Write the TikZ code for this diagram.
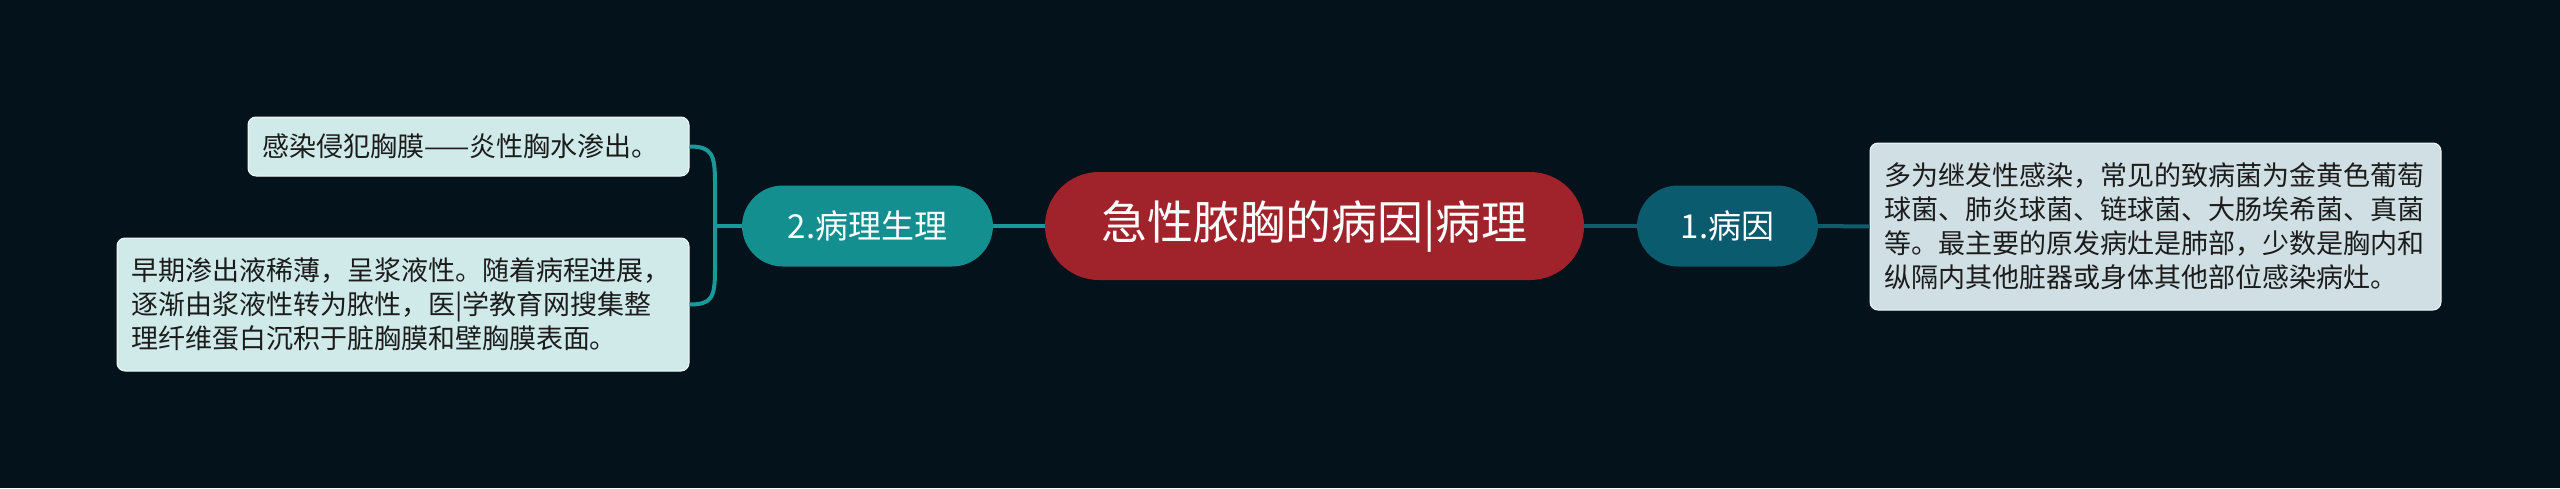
\documentclass[tikz,border=0pt]{standalone}
\usepackage{fontspec}
\setmainfont{Noto Sans CJK SC}
\usepackage{xcolor}

\definecolor{bgdark}{HTML}{04121B}
\definecolor{rootred}{HTML}{A0232B}
\definecolor{causeblue}{HTML}{0B5B6E}
\definecolor{causeline}{HTML}{0E5C6C}
\definecolor{patho}{HTML}{138F8F}
\definecolor{patholine}{HTML}{179A9A}
\definecolor{leafgrey}{HTML}{CFDFE4}
\definecolor{leafcyan}{HTML}{D0EAEA}
\definecolor{leaftext}{HTML}{1C1C1C}

\begin{document}
\begin{tikzpicture}[x=1pt,y=-1pt,
    roottopic/.style={fill=rootred,text=white,rounded corners=54pt,
      minimum width=539pt,minimum height=108pt,inner sep=0pt,
      font=\fontsize{46}{56}\selectfont},
    subtopic/.style={text=white,rounded corners=41pt,
      minimum height=81pt,inner sep=0pt,font=\fontsize{33}{40}\selectfont},
    leafbox/.style={text=leaftext,rounded corners=8pt,draw=white!75!leafgrey,
      line width=1pt,align=left,inner xsep=14pt,inner ysep=0pt,
      font=\fontsize{27}{34}\selectfont},
    link/.style={line width=4pt}]
    \useasboundingbox[fill=bgdark] (0,0) rectangle (2560,488);

    \node[roottopic] (root) at (1314.5,226) {急性脓胸的病因|病理};
    \node[subtopic,fill=causeblue,minimum width=181pt] (cause) at (1727.5,226) {1.病因};
    \node[subtopic,fill=patho,minimum width=251pt] (patho) at (867.5,226) {2.病理生理};

    \node[leafbox,fill=leafgrey,text width=543pt,minimum height=167pt] (causetext)
    at (2155.5,226.5) {多为继发性感染，常见的致病菌为金黄色葡萄\\
      球菌、肺炎球菌、链球菌、大肠埃希菌、真菌\\
      等。最主要的原发病灶是肺部，少数是胸内和\\
      纵隔内其他脏器或身体其他部位感染病灶。};
    \node[leafbox,fill=leafcyan,draw=white!75!leafcyan,text width=413pt,
      minimum height=59pt] (pathoa) at (468.5,146.5) {感染侵犯胸膜——炎性胸水渗出。};
    \node[leafbox,fill=leafcyan,draw=white!75!leafcyan,text width=544pt,
      minimum height=133pt] (pathob) at (403,304.5) {早期渗出液稀薄，呈浆液性。随着病程进展，\\
      逐渐由浆液性转为脓性，医|学教育网搜集整\\
      理纤维蛋白沉积于脏胸膜和壁胸膜表面。};

    \draw[link,color=causeline] (root.east) -- (cause.west);
    \draw[link,color=causeline] (cause.east) -- (causetext.west);

    \coordinate (fork) at (715,226);
    \draw[link,color=patholine] (root.west) -- (patho.east);
    \draw[link,color=patholine] (patho.west) -- (fork);
    \draw[link,color=patholine] (fork) -- ++(0,-44) .. controls +(0,-28) and +(22,0) .. (pathoa.east);
    \draw[link,color=patholine] (fork) -- ++(0,44) .. controls +(0,28) and +(22,0) .. (pathob.east);

  \end{tikzpicture}
\end{document}
